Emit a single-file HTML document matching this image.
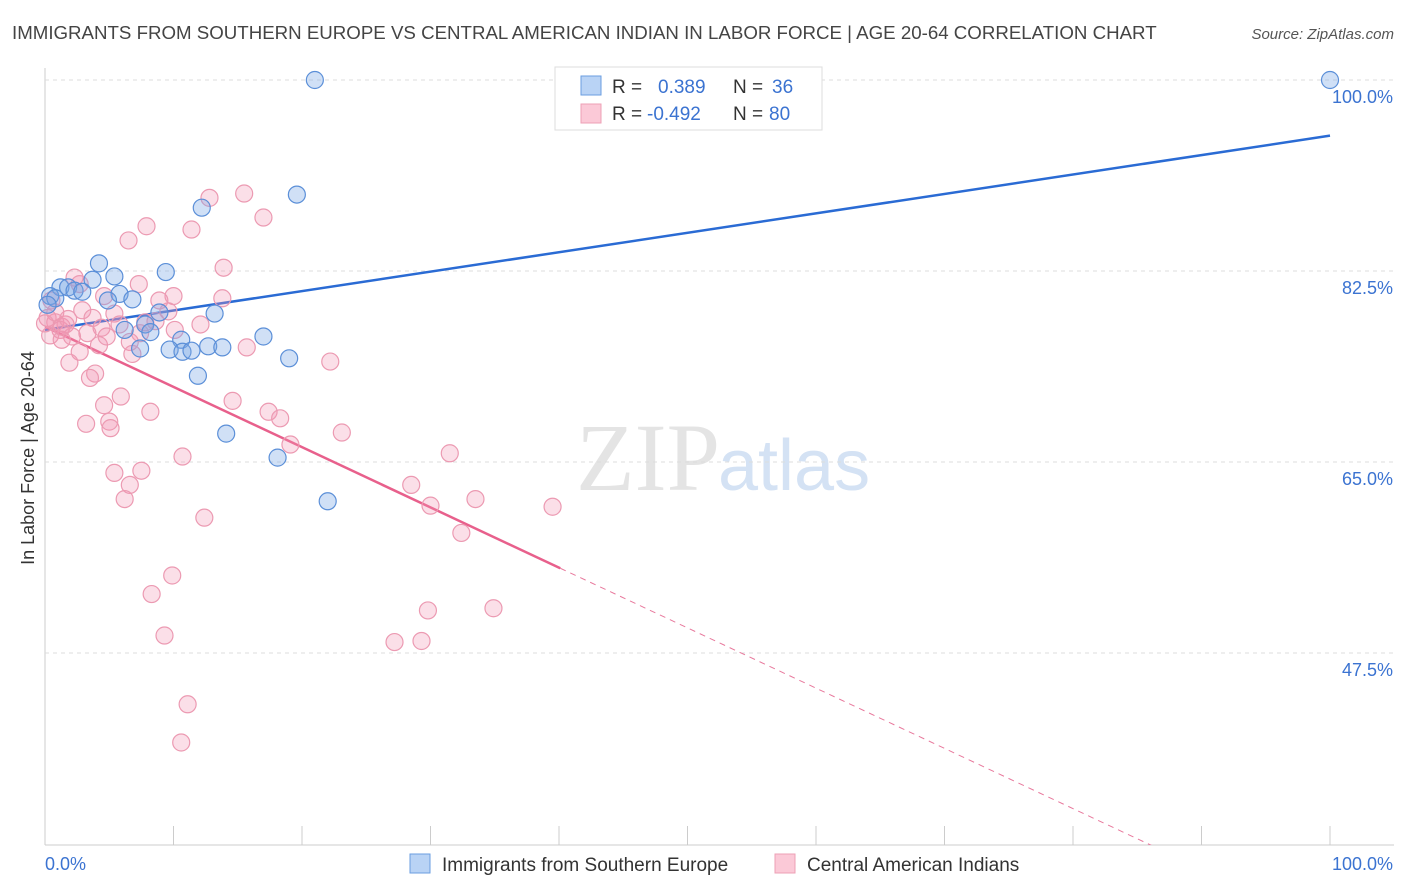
<!DOCTYPE html>
<html><head><meta charset="utf-8"><style>
body{margin:0;background:#fff;font-family:"Liberation Sans",sans-serif;}
svg{display:block}
</style></head><body>
<svg width="1406" height="892" id="chart">
<defs><clipPath id="plotclip"><rect x="45" y="60" width="1349" height="785"/></clipPath></defs>
<text x="12" y="39" font-size="18.7" fill="#444">IMMIGRANTS FROM SOUTHERN EUROPE VS CENTRAL AMERICAN INDIAN IN LABOR FORCE | AGE 20-64 CORRELATION CHART</text>
<text x="1394" y="39" font-size="15" fill="#555" font-style="italic" text-anchor="end">Source: ZipAtlas.com</text>
<text x="720" y="490" font-size="96" fill="#e4e4e4" text-anchor="end" font-family="Liberation Serif,serif">ZIP</text>
<text x="718" y="490" font-size="72" fill="#d4e2f4">atlas</text>
<text transform="translate(34,458) rotate(-90)" font-size="18" fill="#333" text-anchor="middle">In Labor Force | Age 20-64</text>
<g id="grid"></g><g id="ticks"></g><g id="lines" clip-path="url(#plotclip)"></g><g id="pts"></g>
<g>
<rect x="555" y="67" width="267" height="63" fill="#fff" stroke="#ddd"/>
<rect x="581" y="76" width="20" height="19" fill="#b9d3f5" stroke="#6a9ee0"/>
<rect x="581" y="104" width="20" height="19" fill="#fbc9d7" stroke="#eea0b6"/>
<text y="93" font-size="19"><tspan x="612" fill="#333">R =</tspan><tspan x="658" fill="#3b73d1">0.389</tspan><tspan x="733" fill="#333">N =</tspan><tspan x="772" fill="#3b73d1">36</tspan></text>
<text y="120" font-size="19"><tspan x="612" fill="#333">R =</tspan><tspan x="647" fill="#3b73d1">-0.492</tspan><tspan x="733" fill="#333">N =</tspan><tspan x="769" fill="#3b73d1">80</tspan></text>
</g>
<g>
<rect x="410" y="854" width="20" height="19" fill="#b9d3f5" stroke="#6a9ee0"/>
<text x="442" y="871" font-size="19" fill="#333">Immigrants from Southern Europe</text>
<rect x="775" y="854" width="20" height="19" fill="#fbc9d7" stroke="#eea0b6"/>
<text x="807" y="871" font-size="19" fill="#333">Central American Indians</text>
</g>
</svg>
<script>
const xTickLabels=["0.0%","100.0%"];
const yTicks=[100,82.5,65,47.5];
const yTickLabels=["100.0%","82.5%","65.0%","47.5%"];
const blueX=[21.0,100,19.6,12.2,4.2,9.4,5.4,3.7,1.2,1.8,2.3,2.9,0.4,0.8,5.8,6.8,4.9,8.9,13.2,7.8,6.2,8.2,17.0,10.6,12.7,13.8,9.7,10.7,11.4,7.4,19.0,11.9,14.1,18.1,22.0,0.2];
const blueY=[100,100,89.5,88.3,83.2,82.4,82.0,81.7,81.0,81.0,80.7,80.6,80.2,80.0,80.4,79.9,79.8,78.7,78.6,77.6,77.1,76.9,76.5,76.2,75.6,75.5,75.3,75.1,75.2,75.4,74.5,72.9,67.6,65.4,61.4,79.4];
const pinkX=[15.5,12.8,17.0,7.9,11.4,6.5,13.9,2.3,2.7,7.3,10.0,13.8,8.9,4.6,0.5,2.9,9.6,5.4,0.2,0.8,1.6,3.7,4.4,5.8,7.8,1.2,3.3,2.1,0.4,4.2,6.6,15.7,2.7,6.8,1.3,22.2,1.9,3.9,3.5,5.9,14.6,4.6,8.2,17.4,18.3,5.0,3.2,5.1,23.1,19.1,31.5,10.7,5.4,7.5,6.6,28.5,6.2,33.5,30.0,39.5,12.4,32.4,9.9,8.3,29.8,34.9,9.3,27.2,29.3,11.1,10.6,0.8,1.3,4.8,7.4,8.6,12.1,0,1.8,10.1];
const pinkY=[89.6,89.2,87.4,86.6,86.3,85.3,82.8,81.9,81.3,81.3,80.2,80.0,79.8,80.2,79.8,78.9,78.8,78.6,78.2,77.8,77.6,78.2,77.3,77.6,77.8,77.1,76.8,76.5,76.6,75.7,76.0,75.5,75.1,74.9,76.2,74.2,74.1,73.1,72.7,71.0,70.6,70.2,69.6,69.6,69.0,68.7,68.5,68.1,67.7,66.6,65.8,65.5,64.0,64.2,62.9,62.9,61.6,61.6,61.0,60.9,59.9,58.5,54.6,52.9,51.4,51.6,49.1,48.5,48.6,42.8,39.3,78.7,77.4,76.5,76.8,77.9,77.6,77.7,78.1,77.1];
const blueTrend=[77.1,94.9];
const pinkTrend=[77.4,22.2];
const pinkSolidEnd=40.1;

const NS="http://www.w3.org/2000/svg";
const L=45,R=1330,B=845;
const sx=v=>L+(R-L)*v/100;
const sy=v=>80+(100-v)*10.914;
function mk(tag,at,parent){const e=document.createElementNS(NS,tag);for(const k in at)e.setAttribute(k,at[k]);document.getElementById(parent).appendChild(e);return e;}
let ax=mk('line',{x1:L,y1:68,x2:L,y2:B,stroke:'#ccc'},'grid');


let bx=mk('line',{x1:L,y1:B,x2:1394,y2:B,stroke:'#ccc'},'grid');


yTicks.forEach((v,i)=>{
 let g=mk('line',{x1:L,y1:sy(v),x2:1394,y2:sy(v),stroke:'#ddd','stroke-dasharray':'4,4'},'grid');
 
 
 let t=mk('text',{x:1393,y:sy(v)+23,'font-size':18,fill:'#3b73d1','text-anchor':'end'},'ticks');
 t.textContent=yTickLabels[i];
 
 
});
for(let i=0;i<=10;i++){
 let t=mk('line',{x1:sx(i*10),y1:826,x2:sx(i*10),y2:B,stroke:'#ccc'},'ticks');
 
 
}
[[0,'start',45],[100,'end',1393]].forEach((a,i)=>{
 let t=mk('text',{x:a[2],y:870,'font-size':18,fill:'#3b73d1','text-anchor':a[1]},'ticks');
 t.textContent=xTickLabels[i];
 
 
});
let bl=mk('line',{x1:sx(0),y1:sy(blueTrend[0]),x2:sx(100),y2:sy(blueTrend[1]),stroke:'#2a6bd4','stroke-width':2.5},'lines');


const pAt=x=>pinkTrend[0]+(pinkTrend[1]-pinkTrend[0])*x/100;
let pl=mk('line',{x1:sx(0),y1:sy(pAt(0)),x2:sx(pinkSolidEnd),y2:sy(pAt(pinkSolidEnd)),stroke:'#e8608c','stroke-width':2.5},'lines');


let pd=mk('line',{x1:sx(pinkSolidEnd),y1:sy(pAt(pinkSolidEnd)),x2:sx(100),y2:sy(pAt(100)),stroke:'#e8789c','stroke-width':1,'stroke-dasharray':'6,5'},'lines');


pinkX.forEach((x,i)=>{
 let c=mk('circle',{cx:sx(x),cy:sy(pinkY[i]),r:8.5,fill:'rgba(243,150,178,0.3)',stroke:'#ec9ab2','stroke-width':1.2},'pts');
 
 
});
blueX.forEach((x,i)=>{
 let c=mk('circle',{cx:sx(x),cy:sy(blueY[i]),r:8.5,fill:'rgba(120,165,230,0.35)',stroke:'#5b8fd8','stroke-width':1.2},'pts');
 
 
});
</script>
</body></html>
